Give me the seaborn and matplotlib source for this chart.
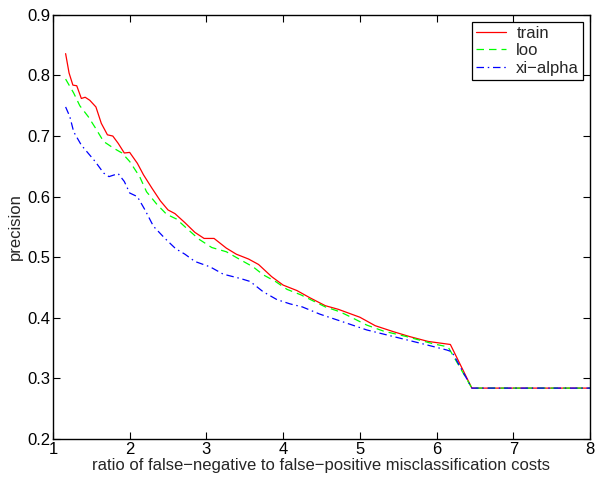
import matplotlib
matplotlib.use('Agg')
import matplotlib.pyplot as plt
import seaborn as sns
import pandas as pd

sns.set_style('ticks')
plt.rcParams['font.family'] = ['Liberation Sans', 'DejaVu Sans']

# values
train_x = [1.165, 1.21, 1.26, 1.31, 1.37, 1.42, 1.48, 1.56, 1.63, 1.71, 1.78, 1.85, 1.93, 2.0,
           2.10, 2.18, 2.29, 2.40, 2.50, 2.59, 2.72, 2.85, 2.97, 3.10, 3.26, 3.39, 3.55, 3.68,
           3.85, 4.0, 4.18, 4.35, 4.55, 4.72, 4.87, 5.0, 5.20, 5.44, 5.65, 5.89, 6.18, 6.46, 8.0]
train_y = [0.836, 0.804, 0.784, 0.783, 0.762, 0.764, 0.759, 0.748, 0.721, 0.702, 0.700, 0.688, 0.672, 0.673,
           0.655, 0.636, 0.614, 0.593, 0.578, 0.572, 0.557, 0.541, 0.531, 0.531, 0.515, 0.505, 0.497, 0.488,
           0.468, 0.454, 0.445, 0.433, 0.420, 0.414, 0.407, 0.401, 0.387, 0.377, 0.369, 0.361, 0.356, 0.284, 0.284]

loo_x = [1.165, 1.27, 1.35, 1.46, 1.55, 1.66, 1.79, 1.90, 2.0, 2.13, 2.22, 2.35, 2.48, 2.61,
         2.74, 2.90, 3.07, 3.26, 3.44, 3.61, 3.74, 3.90, 4.05, 4.23, 4.39, 4.55, 4.74, 4.87,
         5.09, 5.31, 5.61, 5.96, 6.15, 6.46, 8.0]
loo_y = [0.794, 0.771, 0.750, 0.732, 0.714, 0.691, 0.680, 0.672, 0.658, 0.633, 0.608, 0.588, 0.571, 0.563,
         0.548, 0.530, 0.516, 0.509, 0.496, 0.484, 0.471, 0.460, 0.447, 0.438, 0.428, 0.418, 0.410, 0.402,
         0.388, 0.378, 0.369, 0.357, 0.352, 0.284, 0.284]

xi_x = [1.165, 1.22, 1.27, 1.37, 1.47, 1.55, 1.66, 1.73, 1.85, 1.93, 2.0, 2.10, 2.20, 2.31,
        2.46, 2.60, 2.72, 2.85, 3.05, 3.22, 3.44, 3.57, 3.74, 3.92, 4.09, 4.25, 4.48, 4.74,
        5.09, 5.44, 5.79, 6.13, 6.2, 6.46, 8.0]
xi_y = [0.748, 0.732, 0.707, 0.685, 0.670, 0.658, 0.639, 0.633, 0.638, 0.625, 0.606, 0.600, 0.578, 0.551,
        0.531, 0.514, 0.505, 0.493, 0.484, 0.472, 0.465, 0.460, 0.443, 0.430, 0.423, 0.418, 0.406, 0.395,
        0.380, 0.369, 0.358, 0.347, 0.344, 0.284, 0.284]

fig = plt.figure(figsize=(5.95, 4.79), dpi=100)
ax = fig.add_axes([0.089, 0.0835, 0.9026, 0.8855])

sns.lineplot(x=train_x, y=train_y, sort=False, color='#ff0000', lw=0.9, label='train', ax=ax)
sns.lineplot(x=loo_x, y=loo_y, sort=False, color='#00ff00', lw=0.9, label='loo', ax=ax)
sns.lineplot(x=xi_x, y=xi_y, sort=False, color='#0000ff', lw=0.9, label='xi-alpha', ax=ax)
ax.lines[1].set_dashes([6, 4])
ax.lines[2].set_dashes([6, 3, 1.2, 3])

ax.set_xlim(1, 8)
ax.set_ylim(0.2, 0.9)
ax.set_xticks(range(1, 9))
ax.set_yticks([0.2, 0.3, 0.4, 0.5, 0.6, 0.7, 0.8, 0.9])
ax.set_yticklabels(['0.2', '0.3', '0.4', '0.5', '0.6', '0.7', '0.8', '0.9'])
ax.tick_params(direction='in', top=True, right=True, length=5, width=0.8,
               labelsize=12, colors='black', pad=2)
for s in ax.spines.values():
    s.set_linewidth(1.0)
    s.set_color('black')
ax.set_xlabel('ratio of false\u2212negative to false\u2212positive misclassification costs', fontsize=12, labelpad=1)
ax.set_ylabel('precision', fontsize=12, labelpad=3)

leg = ax.legend(loc='upper right', fontsize=12, fancybox=False, framealpha=1,
                edgecolor='black', handlelength=1.8, handletextpad=0.6,
                borderaxespad=0.4, labelspacing=0.15, borderpad=0.25)
leg.get_frame().set_linewidth(0.9)
leg.get_texts()[2].set_text('xi\u2212alpha')

fig.savefig('out.png', dpi=100)
